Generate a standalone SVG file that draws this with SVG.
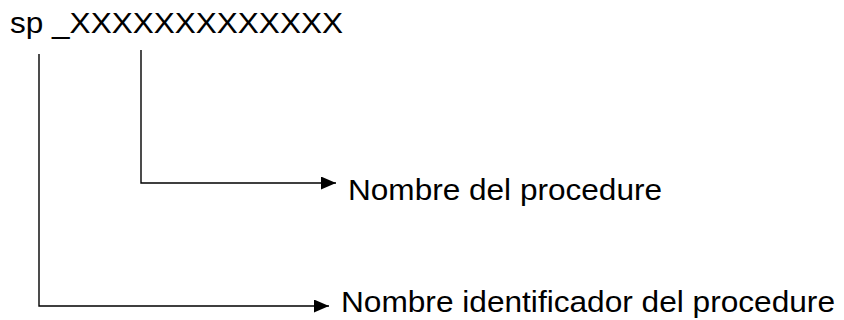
<svg xmlns="http://www.w3.org/2000/svg" width="844" height="320" viewBox="0 0 844 320">
<style>
.t{font-family:"Liberation Sans",Arial,sans-serif;fill:#000}
.c{stroke:#000;stroke-width:1.4;fill:none}
</style>
<defs>
<marker id="ah" markerUnits="userSpaceOnUse" markerWidth="15" markerHeight="13" refX="15" refY="6.5" orient="auto">
<path d="M0,0 L15,6.5 L0,13 Z" fill="#000"/>
</marker>
</defs>
<rect width="844" height="320" fill="#fff"/>
<g id="title"><text class="t" x="10" y="33" font-size="30" textLength="333" lengthAdjust="spacingAndGlyphs">sp _XXXXXXXXXXXXX</text></g>
<g id="label1"><text class="t" x="348" y="200" font-size="30" textLength="314" lengthAdjust="spacingAndGlyphs">Nombre del procedure</text></g>
<g id="label2"><text class="t" x="341" y="312" font-size="30" textLength="494" lengthAdjust="spacingAndGlyphs">Nombre identificador del procedure</text></g>
<g id="connectors">
<path class="c" d="M141,50 V183 H336" marker-end="url(#ah)"/>
<path class="c" d="M39,54 V306 H329" marker-end="url(#ah)"/>
</g>
</svg>
